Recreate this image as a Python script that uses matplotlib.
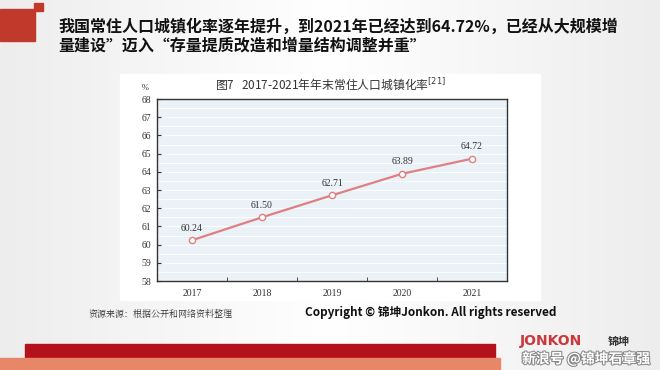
import matplotlib
matplotlib.use("Agg")
import matplotlib.pyplot as plt
import matplotlib.patheffects as pe
import numpy as np
from matplotlib.patches import Rectangle
from matplotlib.ticker import FixedLocator

plt.rcParams['font.family'] = ['Noto Sans CJK SC', 'DejaVu Sans']

years = ["2017", "2018", "2019", "2020", "2021"]
rates = [60.24, 61.50, 62.71, 63.89, 64.72]
y_ticks = [58, 59, 60, 61, 62, 63, 64, 65, 66, 67, 68]

header = "我国常住人口城镇化率逐年提升，到2021年已经达到64.72%，已经从大规模增\n量建设”迈入“存量提质改造和增量结构调整并重”"
chart_title = "图7   2017-2021年年末常住人口城镇化率$^{[21]}$"
source = "资源来源：根据公开和网络资料整理"
copyright_text = "Copyright © 锦坤Jonkon. All rights reserved"

W, H = 660, 370
fig = plt.figure(figsize=(W / 100, H / 100), dpi=100)

# background slide layer in pixel coords
bg = fig.add_axes([0, 0, 1, 1])
bg.set_xlim(0, W)
bg.set_ylim(H, 0)
bg.axis("off")
grad = np.linspace(0, 1, 256)
g = 0.93 + 0.07 * (1 - np.abs(grad - 0.5) * 2)
img = np.dstack([g, g, g])
bg.imshow(img, extent=[0, W, H, 0], aspect="auto", zorder=0)

# red decorations
bg.add_patch(Rectangle((0, 9), 35, 32, color="#c0392b", zorder=1))
bg.add_patch(Rectangle((34, 3), 9, 8, color="#c0392b", zorder=1))
bg.add_patch(Rectangle((25, 344), 470, 14, color="#b3121c", zorder=1))
bg.add_patch(Rectangle((0, 358), 500, 12, color="#e8866a", zorder=1))

# white chart panel
bg.add_patch(Rectangle((120, 74), 420, 226, color="white", zorder=1))

bg.text(58, 36, header, fontsize=11.5, fontweight="bold", color="#111111",
        va="center", ha="left", linespacing=1.25, zorder=3)
bg.text(330, 85, chart_title, fontsize=8.5, color="#333333", ha="center",
        va="center", zorder=3)
bg.text(145, 88, "%", fontsize=6, color="#333333", ha="center", va="center",
        family=["Liberation Serif"], zorder=3)
bg.text(88, 314, source, fontsize=6.5, color="#333333", ha="left", va="center",
        family=["Noto Serif CJK SC", "Noto Sans CJK SC"], zorder=3)
bg.text(305, 312, copyright_text, fontsize=8.5, fontweight="bold", color="#111111",
        ha="left", va="center", zorder=3)
bg.text(520, 341, "JONKON", fontsize=10, fontweight="bold", color="#c4161c",
        ha="left", va="center", family=["DejaVu Sans"], alpha=0.85, zorder=3)
bg.text(608, 341, "锦坤", fontsize=8, fontweight="bold", color="#333333",
        ha="left", va="center", zorder=3)
bg.text(650, 359, "新浪号 @锦坤石章强", fontsize=10, fontweight="bold", color="white",
        ha="right", va="center", zorder=4,
        path_effects=[pe.withStroke(linewidth=1.5, foreground="#888888")])

# chart
ax = fig.add_axes([157 / W, 1 - 281 / H, 350 / W, 182 / H])
ax.set_facecolor("#eaf2f7")
x = np.arange(len(years))
ax.plot(x, rates, color="#e07f82", lw=1.6, zorder=3)
ax.plot(x, rates, "o", ms=4.5, mfc="white", mec="#e07f82", mew=1.0, zorder=4)
for xi, v in zip(x, rates):
    ax.text(xi, v + 0.42, f"{v:.2f}", ha="center", va="bottom", fontsize=7,
            color="#333333", family=["Liberation Serif"])

ax.set_xlim(-0.5, len(years) - 0.5)
ax.set_ylim(58, 68)
ax.set_xticks(x)
ax.set_xticklabels(years, family="Liberation Serif", fontsize=7, color="#333333")
ax.set_yticks(y_ticks)
ax.set_yticklabels([str(t) for t in y_ticks], family="Liberation Serif", fontsize=7,
                   color="#333333")
ax.xaxis.set_minor_locator(FixedLocator(x[:-1] + 0.5))
ax.tick_params(axis="x", which="major", length=0, pad=6)
ax.tick_params(axis="x", which="minor", length=3, direction="in", color="#333333")
ax.tick_params(axis="y", which="major", length=3, direction="in", color="#333333", pad=4)
for yg in np.arange(58.5, 68, 0.5):
    ax.axhline(yg, color="white", lw=0.6, zorder=1)
for s in ax.spines.values():
    s.set_color("#333333")
    s.set_linewidth(1.0)

fig.savefig("out.png", dpi=100)
